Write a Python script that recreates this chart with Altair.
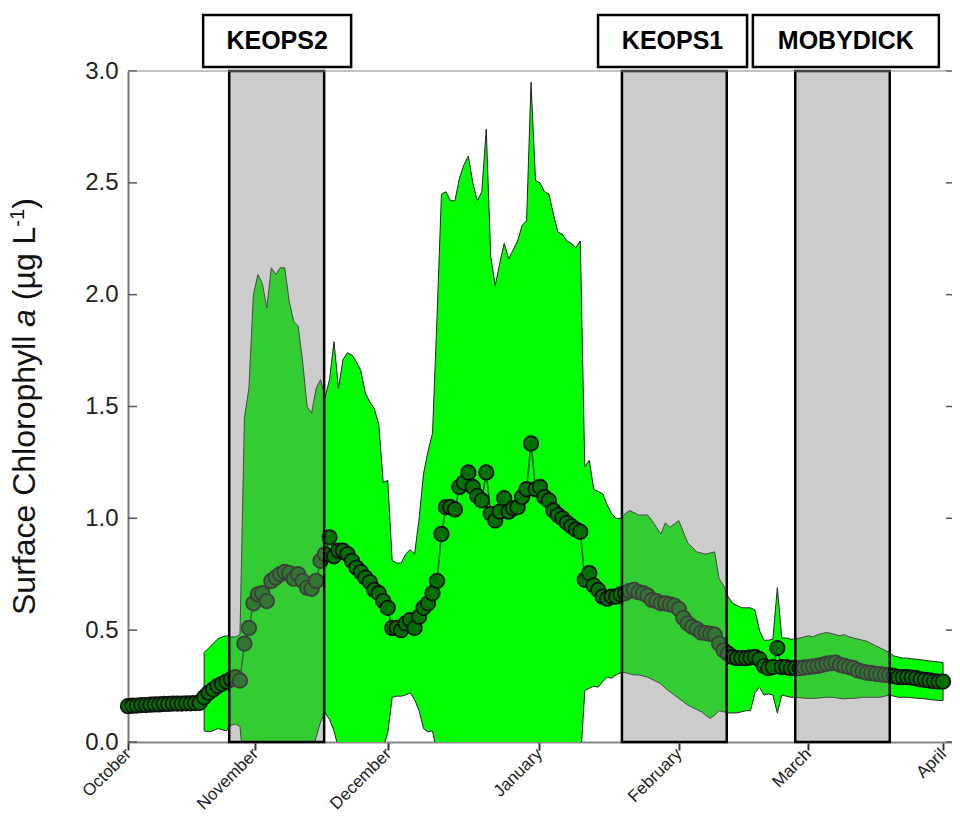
import altair as alt
import pandas as pd

# ---------------- data ----------------
# daily surface chlorophyll a, day 0 = 1 October ... day 182 = 1 April
mean_chl = [
    0.160, 0.162, 0.163, 0.165, 0.165, 0.167, 0.168, 0.168, 0.170, 0.170,
    0.172, 0.172, 0.172, 0.173, 0.173, 0.174, 0.175,
    0.20, 0.22, 0.235, 0.25, 0.26, 0.27, 0.28, 0.29, 0.275,
    0.44, 0.51, 0.62, 0.66, 0.665, 0.63, 0.72, 0.735, 0.75, 0.76,
    0.755, 0.73, 0.75, 0.72, 0.69, 0.685, 0.72, 0.81, 0.84, 0.915,
    0.83, 0.855, 0.855, 0.84, 0.81, 0.78, 0.76, 0.735, 0.715, 0.68,
    0.665, 0.63, 0.60, 0.51, 0.51, 0.50, 0.53, 0.545, 0.51, 0.56,
    0.60, 0.62, 0.665, 0.72,
    0.93, 1.05, 1.05, 1.04, 1.14, 1.16, 1.205, 1.14, 1.10, 1.08,
    1.205, 1.02, 0.99, 1.03, 1.09, 1.03, 1.045, 1.05, 1.095, 1.13, 1.335,
    1.13, 1.14, 1.095, 1.08, 1.035, 1.015, 1.0, 0.98, 0.965, 0.95, 0.94,
    0.725, 0.755, 0.70, 0.68,
    0.65, 0.64, 0.65, 0.65, 0.66, 0.665, 0.675, 0.68, 0.67, 0.665,
    0.655, 0.635, 0.63, 0.62, 0.62, 0.615, 0.61, 0.595, 0.555, 0.53,
    0.515, 0.505, 0.49, 0.487, 0.483, 0.48,
    0.44, 0.41, 0.395, 0.38, 0.375, 0.375, 0.375, 0.378, 0.38, 0.37,
    0.34, 0.33, 0.335, 0.42, 0.335, 0.335, 0.33, 0.33, 0.33,
    0.333, 0.335, 0.338, 0.34, 0.345, 0.35, 0.353, 0.355, 0.345, 0.34,
    0.335, 0.33, 0.32, 0.315, 0.31, 0.308, 0.305, 0.303, 0.30, 0.298,
    0.295, 0.29, 0.29, 0.29, 0.288, 0.285, 0.28, 0.278, 0.275, 0.272,
    0.27, 0.27,
]

ENV_FIRST_DAY = 17  # envelope (spatial range) starts here
upper_chl = [
    0.40, 0.42, 0.44, 0.46, 0.47, 0.475, 0.47, 0.47, 0.48,
    1.45, 1.58, 2.00, 2.09, 2.05, 1.94, 2.12, 2.09, 2.12, 2.12,
    1.97, 1.88, 1.86, 1.70, 1.50, 1.47, 1.58, 1.62, 1.54, 1.62,
    1.79, 1.58, 1.71, 1.74, 1.73, 1.70, 1.66, 1.56, 1.52, 1.49,
    1.42, 1.16, 1.17, 0.81, 0.80, 0.80, 0.84, 0.86, 0.84,
    1.00, 1.20, 1.30, 1.38, 1.90,
    2.45, 2.46, 2.42, 2.42, 2.52, 2.58, 2.62, 2.50, 2.42, 2.46,
    2.74, 2.17, 2.04, 2.14, 2.23, 2.16, 2.20, 2.24, 2.31, 2.33,
    2.95, 2.51, 2.50, 2.46, 2.45, 2.36, 2.28, 2.27, 2.24, 2.23,
    2.21, 2.24,
    1.23, 1.26, 1.13, 1.12, 1.11, 1.06, 1.02, 1.00, 1.00, 1.02,
    1.035, 1.025, 1.015, 1.015, 1.015, 0.99, 0.96, 0.93, 0.98, 0.96,
    0.975, 0.99, 0.94, 0.89, 0.87, 0.85, 0.845, 0.84, 0.845, 0.85,
    0.73, 0.70, 0.65, 0.62, 0.61, 0.60, 0.60, 0.60, 0.59, 0.50,
    0.455, 0.455, 0.46, 0.69, 0.465, 0.465, 0.46, 0.46, 0.465,
    0.47, 0.475, 0.47, 0.48, 0.485, 0.49, 0.485, 0.48, 0.475, 0.48,
    0.47, 0.465, 0.46, 0.455, 0.45, 0.44, 0.43, 0.42, 0.41, 0.40,
    0.385, 0.38, 0.375, 0.375, 0.372, 0.37, 0.368, 0.365, 0.362, 0.36,
    0.358, 0.355,
]
lower_chl = [
    0.05, 0.045, 0.05, 0.06, 0.055, 0.05, 0.075, 0.08, 0.07,
    -0.15, -0.2, -0.25, -0.3, -0.3, -0.3, -0.35, -0.35, -0.35, -0.35,
    -0.3, -0.3, -0.25, -0.2, -0.1,
    -0.05, 0.02, 0.09, 0.13, 0.10, 0.05, -0.03,
    -0.1, -0.15, -0.2, -0.2, -0.2, -0.2, -0.15, -0.1, -0.05,
    -0.02, 0.04, 0.20, 0.205, 0.205, 0.21, 0.22, 0.19, 0.14, 0.06,
    0.045, 0.05, -0.05,
    -0.2, -0.3, -0.3, -0.3, -0.35, -0.35, -0.35, -0.4, -0.4, -0.4,
    -0.35, -0.3, -0.3, -0.3, -0.3, -0.35, -0.35, -0.4, -0.4, -0.4,
    -0.4, -0.35, -0.35, -0.3, -0.3, -0.3, -0.25, -0.25, -0.2, -0.2,
    -0.15, -0.1,
    0.23, 0.24, 0.25, 0.245, 0.27, 0.29, 0.285, 0.30, 0.31, 0.31,
    0.305, 0.30, 0.30, 0.295, 0.29, 0.28, 0.27, 0.26, 0.24, 0.225,
    0.21, 0.195, 0.18, 0.165, 0.155, 0.145, 0.135, 0.12, 0.105, 0.12,
    0.14, 0.135, 0.13, 0.13, 0.13, 0.135, 0.14, 0.14, 0.22, 0.245,
    0.21, 0.215, 0.21, 0.13, 0.21, 0.205,
    0.20, 0.20, 0.198, 0.196, 0.195, 0.195, 0.196, 0.198, 0.20, 0.20,
    0.198, 0.195, 0.193, 0.195, 0.195, 0.197, 0.20, 0.20, 0.20, 0.20,
    0.20, 0.205, 0.21, 0.205, 0.20, 0.20, 0.20, 0.198, 0.196, 0.195,
    0.193, 0.19, 0.188, 0.186, 0.185,
]

month_names = ["October", "November", "December", "January", "February", "March", "April"]
month_ticks = [0, 28.4, 58.1, 91.8, 123.0, 151.9, 182.0]
y_ticks = [0.0, 0.5, 1.0, 1.5, 2.0, 2.5, 3.0]

campaigns = ["KEOPS2", "KEOPS1", "MOBYDICK"]
camp_start = [22.6, 110.3, 149.0]
camp_end = [43.8, 133.7, 170.1]
label_center = [33.3, 121.6, 160.3]   # centre of each campaign's name box

# ---------------- layout / style ----------------
W, H = 824, 671
XMAX = 184.0
PX_PER_DAY = W / XMAX
BOX_PX = {"KEOPS2": 148, "KEOPS1": 149, "MOBYDICK": 186}
FONT = "Liberation Sans"

days = list(range(len(mean_chl)))
env_days = list(range(ENV_FIRST_DAY, ENV_FIRST_DAY + len(upper_chl)))

mean_df = pd.DataFrame({"day": days, "chl": mean_chl})
env_df = pd.DataFrame({"day": env_days, "upper": upper_chl, "lower": lower_chl})
camp_df = pd.DataFrame({"name": campaigns, "start": camp_start, "end": camp_end,
                        "mid": label_center})
half = camp_df["name"].map(BOX_PX) / 2 / PX_PER_DAY
camp_df["box_l"] = camp_df["mid"] - half
camp_df["box_r"] = camp_df["mid"] + half
tick_df = pd.DataFrame({"v": y_ticks})

xscale = alt.Scale(domain=[0, XMAX], nice=False, zero=False)
yscale = alt.Scale(domain=[0, 3], nice=False)

label_expr = " : ".join(
    f"datum.value == {v} ? '{n}'" for v, n in zip(month_ticks, month_names)
) + " : ''"

x_axis = alt.Axis(
    values=month_ticks, labelExpr=label_expr, labelAngle=-45, labelAlign="right",
    labelBaseline="middle", labelFontSize=17, labelColor="#222", labelFont=FONT,
    labelPadding=1, labelFlush=False, labelOverlap=False, labelBound=False,
    tickSize=8, tickWidth=2, tickColor="#333", domainColor="#888", domainWidth=2,
    grid=False, title=None,
)
y_axis = alt.Axis(
    values=y_ticks, format=".1f", ticks=False, labelFontSize=24, labelColor="#222",
    labelFont=FONT, labelPadding=10, labelFlush=False, labelOverlap=False,
    domainColor="#777", domainWidth=2, grid=False, title=None,
)


def X(field):
    return alt.X(field, scale=xscale, axis=x_axis, title=None)


def Y(field):
    return alt.Y(field, scale=yscale, axis=y_axis, title=None)


area = alt.Chart(env_df).mark_area(
    fill="#00ff00", stroke="#222222", strokeWidth=1, clip=True
).encode(x=X("day:Q"), y=Y("upper:Q"), y2="lower:Q")

line = alt.Chart(mean_df).mark_line(color="#0a5a0a", strokeWidth=1.5).encode(
    x=X("day:Q"), y=Y("chl:Q")
)

points = alt.Chart(mean_df).mark_circle(
    size=210, fill="#007000", stroke="#111111", strokeWidth=1.8, opacity=1
).encode(x=X("day:Q"), y=Y("chl:Q"))

bands = alt.Chart(camp_df).mark_rect(
    fill="#808080", fillOpacity=0.4, stroke="#000000", strokeWidth=2.5
).encode(x=X("start:Q"), x2="end:Q", y=alt.value(0), y2=alt.value(H))

boxes = alt.Chart(camp_df).mark_rect(
    fill="white", stroke="#000000", strokeWidth=2.5
).encode(x=X("box_l:Q"), x2="box_r:Q", y=alt.value(-56), y2=alt.value(-4))

box_text = alt.Chart(camp_df).mark_text(
    font=FONT, fontSize=25, fontWeight="bold", color="#000000",
    align="center", baseline="middle",
).encode(x=X("mid:Q"), y=alt.value(-30), text="name:N")

ticks_left = alt.Chart(tick_df).mark_rule(color="#555555", strokeWidth=1.5).encode(
    y=Y("v:Q"), x=alt.value(0), x2=alt.value(9)
)
ticks_right = alt.Chart(tick_df).mark_rule(color="#555555", strokeWidth=1.5).encode(
    y=Y("v:Q"), x=alt.value(W - 6), x2=alt.value(W)
)
top_border = alt.Chart(alt.Data(values=[{}])).mark_rule(color="#888888", strokeWidth=1).encode(
    x=alt.value(0), x2=alt.value(W), y=alt.value(0)
)

# ---- y title built from segments (italic "a", superscript "-1") ----
AW = {'S': .667, 'u': .556, 'r': .333, 'f': .278, 'a': .556, 'c': .5, 'e': .556,
      ' ': .278, 'C': .722, 'h': .556, 'l': .222, 'o': .556, 'p': .556, 'y': .5,
      '(': .333, 'µ': .576, 'g': .556, 'L': .556, '-': .333, '1': .556, ')': .333}


def tw(s, fs):
    return sum(AW.get(ch, .556) for ch in s) * fs


TFS = 32
segments = [
    ("Surface Chlorophyll", TFS, "normal", 0),
    (" ", TFS, None, 0),
    ("a", TFS, "italic", 0),
    (" ", TFS, None, 0),
    ("(µg L", TFS, "normal", 0),
    ("-1", 20, "normal", 11),
    (")", TFS, "normal", 0),
]
title_layers = []
ypos = 544.0
base_x = -93
for txt, fs, style, rise in segments:
    if style is not None:
        title_layers.append(
            alt.Chart(alt.Data(values=[{}])).mark_text(
                text=txt, font=FONT, fontSize=fs, fontStyle=style, color="#111111",
                angle=270, align="left", baseline="alphabetic",
            ).encode(x=alt.value(base_x - rise), y=alt.value(ypos))
        )
    ypos -= tw(txt, fs)

chart = alt.layer(
    area, line, points, bands, boxes, box_text,
    ticks_left, ticks_right, top_border, *title_layers,
).properties(
    width=W, height=H,
    autosize=alt.AutoSizeParams(type="none"),
    padding={"left": 120, "top": 63, "right": 0, "bottom": 73},
    background="white",
).configure_view(stroke=None)

chart.save("out.html", embed_options={"renderer": "svg", "actions": False})
